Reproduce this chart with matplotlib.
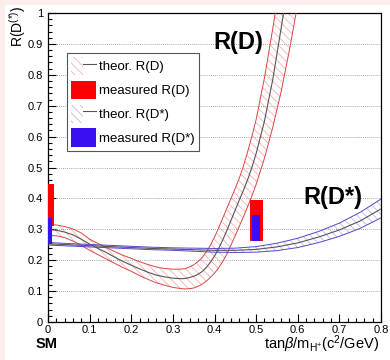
import matplotlib
matplotlib.use('Agg')
import matplotlib.pyplot as plt
from matplotlib.patches import Patch, Rectangle
from matplotlib.lines import Line2D
from matplotlib.legend_handler import HandlerTuple
from matplotlib.ticker import MultipleLocator

# ---------------- data ----------------
rd_x = [0.00, 0.02, 0.04, 0.06, 0.08, 0.10, 0.12, 0.14, 0.16, 0.18, 0.20,
        0.22, 0.24, 0.26, 0.28, 0.30, 0.32, 0.33, 0.34, 0.35, 0.36, 0.37,
        0.38, 0.39, 0.40, 0.41, 0.42, 0.43, 0.44, 0.45, 0.46, 0.47, 0.48,
        0.49, 0.50, 0.52, 0.54, 0.56, 0.58, 0.60]
rd_center = [0.299, 0.297, 0.291, 0.282, 0.268, 0.252, 0.238, 0.225, 0.210, 0.196, 0.184,
             0.172, 0.161, 0.152, 0.146, 0.142, 0.140, 0.141, 0.144, 0.148, 0.154, 0.163,
             0.176, 0.193, 0.213, 0.238, 0.266, 0.297, 0.330, 0.363, 0.396, 0.428, 0.462,
             0.501, 0.545, 0.650, 0.785, 0.950, 1.120, 1.300]
rd_upper = [0.315, 0.314, 0.309, 0.301, 0.288, 0.268, 0.254, 0.241, 0.228, 0.216, 0.206,
            0.195, 0.186, 0.178, 0.173, 0.171, 0.171, 0.173, 0.178, 0.185, 0.195, 0.208,
            0.226, 0.248, 0.275, 0.305, 0.337, 0.369, 0.401, 0.433, 0.467, 0.507, 0.553,
            0.602, 0.655, 0.790, 0.950, 1.120, 1.300, 1.500]
rd_lower = [0.280, 0.279, 0.273, 0.262, 0.248, 0.232, 0.218, 0.204, 0.190, 0.176, 0.164,
            0.150, 0.138, 0.127, 0.119, 0.112, 0.108, 0.107, 0.108, 0.110, 0.115, 0.122,
            0.132, 0.144, 0.158, 0.175, 0.196, 0.221, 0.250, 0.280, 0.311, 0.342, 0.375,
            0.409, 0.445, 0.530, 0.630, 0.745, 0.880, 1.030]

rds_x = [0.00, 0.05, 0.10, 0.15, 0.20, 0.25, 0.30, 0.35, 0.40,
         0.45, 0.50, 0.55, 0.60, 0.65, 0.70, 0.75, 0.80]
rds_center = [0.253, 0.250, 0.247, 0.244, 0.241, 0.238, 0.236, 0.234, 0.232,
              0.232, 0.235, 0.243, 0.256, 0.275, 0.298, 0.327, 0.366]
rds_upper = [0.257, 0.254, 0.251, 0.248, 0.245, 0.242, 0.240, 0.239, 0.238,
             0.239, 0.244, 0.255, 0.271, 0.293, 0.320, 0.355, 0.398]
rds_lower = [0.249, 0.246, 0.243, 0.240, 0.237, 0.234, 0.232, 0.229, 0.226,
             0.225, 0.226, 0.231, 0.241, 0.257, 0.277, 0.303, 0.337]

meas_x = [0.0, 0.5]
meas_rd_low = [0.310, 0.262]
meas_rd_high = [0.445, 0.394]
meas_rds_low = [0.252, 0.261]
meas_rds_high = [0.335, 0.345]

legend_labels = ['theor. R(D)', 'measured R(D)', 'theor. R(D*)', 'measured R(D*)']
x_ticks = [0.0, 0.1, 0.2, 0.3, 0.4, 0.5, 0.6, 0.7, 0.8]
x_ticklabels = ['0', '0.1', '0.2', '0.3', '0.4', '0.5', '0.6', '0.7', '0.8']
y_ticks = [0.0, 0.1, 0.2, 0.3, 0.4, 0.5, 0.6, 0.7, 0.8, 0.9, 1.0]
y_ticklabels = ['0', '0.1', '0.2', '0.3', '0.4', '0.5', '0.6', '0.7', '0.8', '0.9', '1']

# ---------------- style ----------------
plt.rcParams['font.family'] = ['Liberation Sans', 'DejaVu Sans']
plt.rcParams['mathtext.fontset'] = 'custom'
plt.rcParams['mathtext.rm'] = 'Liberation Sans'
plt.rcParams['mathtext.it'] = 'Liberation Sans:italic'
plt.rcParams['mathtext.bf'] = 'Liberation Sans:bold'
plt.rcParams['hatch.linewidth'] = 0.5

RED_EDGE = '#dd4444'
RED_HATCH = '#f3a3a3'
BLUE_EDGE = '#5544cc'
BLUE_HATCH = '#b4aae8'
CENTER = '#555555'
HATCH = '\\\\\\\\'
RED_BAR = '#ff0000'
BLUE_BAR = '#3a10f2'

fig = plt.figure(figsize=(3.9, 3.6), dpi=100)
fig.patch.set_facecolor('white')
pink = '#fcecec'
fig.patches.append(Rectangle((0, 0), 5 / 390, 1, transform=fig.transFigure,
                             facecolor=pink, edgecolor='none', zorder=0))
fig.patches.append(Rectangle((0, 1 - 5 / 360), 1, 5 / 360, transform=fig.transFigure,
                             facecolor=pink, edgecolor='none', zorder=0))

ax = fig.add_axes([48 / 390, 1 - 322 / 360, 333 / 390, 309 / 360])
ax.set_xlim(0, 0.8)
ax.set_ylim(0, 1.0)

# grid
ax.set_axisbelow(True)
ax.yaxis.grid(True, which='major', linestyle=(0, (1, 1.5)), color='#8a8a8a', linewidth=0.6)

# R(D) band
ax.fill_between(rd_x, rd_lower, rd_upper, facecolor='none', edgecolor=RED_HATCH,
                hatch=HATCH, linewidth=0, zorder=2)
ax.plot(rd_x, rd_upper, color=RED_EDGE, lw=0.7, zorder=3)
ax.plot(rd_x, rd_lower, color=RED_EDGE, lw=0.7, zorder=3)
ax.plot(rd_x, rd_center, color=CENTER, lw=0.8, zorder=3)

# R(D*) band
ax.fill_between(rds_x, rds_lower, rds_upper, facecolor='none', edgecolor=BLUE_HATCH,
                hatch=HATCH, linewidth=0, zorder=2)
ax.plot(rds_x, rds_upper, color=BLUE_EDGE, lw=0.7, zorder=3)
ax.plot(rds_x, rds_lower, color=BLUE_EDGE, lw=0.7, zorder=3)
ax.plot(rds_x, rds_center, color=CENTER, lw=0.8, zorder=3)

# measurements
ax.bar(meas_x, [h - l for h, l in zip(meas_rd_high, meas_rd_low)], bottom=meas_rd_low,
       width=0.031, color=RED_BAR, edgecolor='none', zorder=4)
ax.bar(meas_x, [h - l for h, l in zip(meas_rds_high, meas_rds_low)], bottom=meas_rds_low,
       width=0.021, color=BLUE_BAR, edgecolor='none', zorder=5)

# axes style
for s in ax.spines.values():
    s.set_color('black')
    s.set_linewidth(0.9)
ax.set_xticks(x_ticks)
ax.set_xticklabels(x_ticklabels)
ax.set_yticks(y_ticks)
ax.set_yticklabels(y_ticklabels)
ax.xaxis.set_minor_locator(MultipleLocator(0.02))
ax.yaxis.set_minor_locator(MultipleLocator(0.02))
ax.tick_params(which='both', direction='in', top=False, right=False, width=0.8,
               labelsize=8, colors='black')
ax.tick_params(which='major', length=6)
ax.tick_params(which='minor', length=3)
ax.tick_params(axis='x', pad=2)
ax.tick_params(axis='y', pad=3.5)

# legend
h1 = (Patch(facecolor='white', edgecolor=RED_HATCH, hatch=HATCH, lw=0),
      Line2D([], [], color=CENTER, lw=0.8))
h2 = Patch(facecolor=RED_BAR, edgecolor='none')
h3 = (Patch(facecolor='white', edgecolor=BLUE_HATCH, hatch=HATCH, lw=0),
      Line2D([], [], color=CENTER, lw=0.8))
h4 = Patch(facecolor=BLUE_BAR, edgecolor='none')
leg = ax.legend([h1, h2, h3, h4], legend_labels,
                handler_map={tuple: HandlerTuple(ndivide=None, pad=0)},
                loc='upper left', bbox_to_anchor=((67 - 48) / 333, (322 - 53) / 309),
                borderaxespad=0, fontsize=9.5, frameon=True, fancybox=False,
                edgecolor='#555555', framealpha=1, handlelength=1.9, handleheight=1.75,
                labelspacing=0.42, borderpad=0.3, handletextpad=0.25)
leg.get_frame().set_linewidth(0.8)
leg.set_zorder(10)

# texts
fig.text(18 / 390, 1 - 6 / 360, r'R(D$^{(*)}$)', rotation=90, ha='center', va='top',
         fontsize=10)
fig.text(379 / 390, 1 - 349 / 360, r'tan$\beta$/m$_{\mathrm{H^{+}}}$(c$^{2}$/GeV)',
         ha='right', va='baseline', fontsize=10.5)
fig.text(47 / 390, 1 - 348 / 360, 'SM', ha='center', va='baseline', fontsize=10.5,
         fontweight='bold')
fig.text(238 / 390, 1 - 42 / 360, 'R(D)', ha='center', va='center', fontsize=17,
         fontweight='bold')
fig.text(333 / 390, 1 - 197 / 360, 'R(D*)', ha='center', va='center', fontsize=17,
         fontweight='bold')

fig.savefig('out.png', dpi=100)
